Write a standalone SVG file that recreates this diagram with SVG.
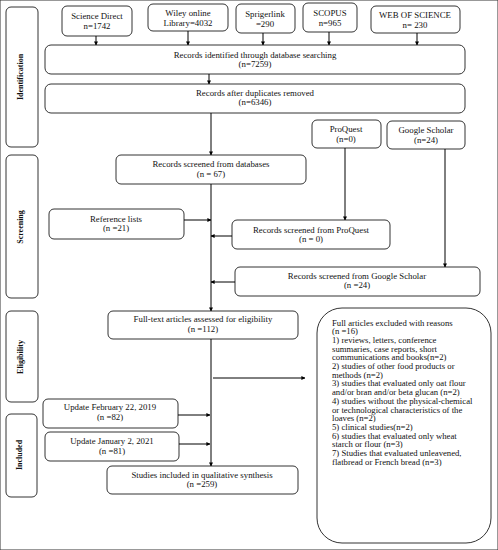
<svg xmlns="http://www.w3.org/2000/svg" width="498" height="550" viewBox="0 0 498 550">
<defs>
<marker id="ah" viewBox="0 0 10 10" refX="9" refY="5" markerWidth="4" markerHeight="4" orient="auto" markerUnits="userSpaceOnUse">
<path d="M0,0 L10,5 L0,10 z" fill="#000"/>
</marker>
<style>
rect{fill:#fff;stroke:#333;stroke-width:1}
text{font-family:"Liberation Serif","Times New Roman",serif;font-size:8.8px;fill:#111}
.c{text-anchor:middle}
.side{font-weight:bold;font-size:8px;text-anchor:middle}
.ex{font-size:8.7px}
.ln{stroke:#000;stroke-width:1;fill:none}
.ar{stroke:#000;stroke-width:1;fill:none;marker-end:url(#ah)}
</style>
</defs>
<rect width="498" height="550" fill="#fff" stroke="none"/>

<g id="phase-identification"><rect x="6" y="7" width="32" height="140" rx="5"/><text class="side" transform="translate(23,77) rotate(-90)">Identification</text></g>
<g id="phase-screening"><rect x="6" y="155" width="32" height="143" rx="5"/><text class="side" transform="translate(23,227) rotate(-90)">Screening</text></g>
<g id="phase-eligibility"><rect x="6" y="311" width="32" height="91" rx="5"/><text class="side" transform="translate(23,357) rotate(-90)">Eligibility</text></g>
<g id="phase-included"><rect x="6" y="414" width="31" height="83" rx="5"/><text class="side" transform="translate(22,455) rotate(-90)">Included</text></g>

<g id="sciencedirect"><rect x="62" y="6" width="70" height="30" rx="5"/><text class="c" x="97" y="19">Science Direct</text><text class="c" x="97" y="29">n=1742</text></g>
<g id="wiley"><rect x="148" y="4" width="80" height="27" rx="5"/><text class="c" x="188" y="16">Wiley online</text><text class="c" x="188" y="26">Library=4032</text></g>
<g id="springerlink"><rect x="236" y="4" width="59" height="29" rx="5"/><text class="c" x="265" y="17">Sprigerlink</text><text class="c" x="265" y="27">=290</text></g>
<g id="scopus"><rect x="303" y="3" width="54" height="29" rx="5"/><text class="c" x="330" y="16">SCOPUS</text><text class="c" x="330" y="26">n=965</text></g>
<g id="wos"><rect x="371" y="6" width="89" height="27" rx="5"/><text class="c" x="415" y="18">WEB OF SCIENCE</text><text class="c" x="415" y="28">n= 230</text></g>

<g id="identified"><rect x="45" y="45" width="420" height="29" rx="6"/><text class="c" x="255" y="58">Records identified through database searching</text><text class="c" x="255" y="67">(n=7259)</text></g>
<g id="dedup"><rect x="45" y="84" width="420" height="29" rx="6"/><text class="c" x="255" y="96">Records after duplicates removed</text><text class="c" x="255" y="105">(n=6346)</text></g>

<g id="proquest"><rect x="312" y="120" width="69" height="28" rx="5"/><text class="c" x="346" y="132">ProQuest</text><text class="c" x="346" y="142">(n=0)</text></g>
<g id="googlescholar"><rect x="387" y="121" width="78" height="28" rx="5"/><text class="c" x="426" y="133">Google Scholar</text><text class="c" x="426" y="143">(n=24)</text></g>

<g id="screened-db"><rect x="116" y="155" width="190" height="29" rx="5"/><text class="c" x="211" y="167">Records screened from databases</text><text class="c" x="211" y="177">(n = 67)</text></g>
<g id="reflists"><rect x="49" y="209" width="135" height="30" rx="5"/><text class="c" x="116" y="222">Reference lists</text><text class="c" x="116" y="231">(n =21)</text></g>
<g id="screened-pq"><rect x="232" y="220" width="158" height="29" rx="5"/><text class="c" x="311" y="233">Records screened from ProQuest</text><text class="c" x="311" y="242">(n = 0)</text></g>
<g id="screened-gs"><rect x="235" y="267" width="245" height="29" rx="5"/><text class="c" x="357" y="279">Records screened from Google Scholar</text><text class="c" x="357" y="288">(n =24)</text></g>

<g id="fulltext"><rect x="108" y="311" width="190" height="28" rx="5"/><text class="c" x="203" y="322">Full-text articles assessed for eligibility</text><text class="c" x="203" y="332">(n =112)</text></g>

<g id="excluded"><rect x="317" y="308" width="174" height="235" rx="25"/>
<text class="ex" x="332" y="325.5">Full articles excluded with reasons</text>
<text class="ex" x="332" y="334.2">(n =16)</text>
<text class="ex" x="332" y="342.9">1) reviews, letters, conference</text>
<text class="ex" x="332" y="351.6">summaries, case reports, short</text>
<text class="ex" x="332" y="360.3">communications and books(n=2)</text>
<text class="ex" x="332" y="369">2) studies of other food products or</text>
<text class="ex" x="332" y="377.7">methods (n=2)</text>
<text class="ex" x="332" y="386.4">3) studies that evaluated only oat flour</text>
<text class="ex" x="332" y="395.1">and/or bran and/or beta glucan (n=2)</text>
<text class="ex" x="332" y="403.8">4) studies without the physical-chemical</text>
<text class="ex" x="332" y="412.5">or technological characteristics of the</text>
<text class="ex" x="332" y="421.2">loaves (n=2)</text>
<text class="ex" x="332" y="429.9">5) clinical studies(n=2)</text>
<text class="ex" x="332" y="438.6">6) studies that evaluated only wheat</text>
<text class="ex" x="332" y="447.3">starch or flour (n=3)</text>
<text class="ex" x="332" y="456">7) Studies that evaluated unleavened,</text>
<text class="ex" x="332" y="464.7">flatbread or French bread (n=3)</text>
</g>

<g id="update2019"><rect x="43" y="399" width="135" height="29" rx="5"/><text class="c" x="110" y="410">Update February 22, 2019</text><text class="c" x="110" y="420">(n =82)</text></g>
<g id="update2021"><rect x="45" y="432" width="134" height="29" rx="5"/><text class="c" x="112" y="444">Update January 2, 2021</text><text class="c" x="112" y="454">(n =81)</text></g>
<g id="included"><rect x="107" y="466" width="191" height="28" rx="5"/><text class="c" x="202" y="478">Studies included in qualitative synthesis</text><text class="c" x="202" y="487">(n =259)</text></g>

<g id="connectors">
<line class="ar" x1="96" y1="36" x2="96" y2="45"/>
<line class="ar" x1="188" y1="31" x2="188" y2="45"/>
<line class="ar" x1="263" y1="33" x2="263" y2="45"/>
<line class="ar" x1="329" y1="32" x2="329" y2="45"/>
<line class="ar" x1="417" y1="33" x2="417" y2="45"/>
<line class="ar" x1="209" y1="74" x2="209" y2="84"/>
<line class="ar" x1="211" y1="113" x2="211" y2="155"/>
<line class="ar" x1="211" y1="184" x2="211" y2="311"/>
<line class="ar" x1="184" y1="220" x2="211" y2="220"/>
<line class="ar" x1="345" y1="148" x2="345" y2="220"/>
<line class="ar" x1="232" y1="236" x2="211" y2="236"/>
<line class="ar" x1="445" y1="149" x2="445" y2="267"/>
<line class="ar" x1="235" y1="282" x2="211" y2="282"/>
<line class="ar" x1="211" y1="339" x2="211" y2="466"/>
<line class="ar" x1="213" y1="378" x2="305" y2="378"/>
<line class="ar" x1="178" y1="415" x2="210" y2="415"/>
<line class="ar" x1="179" y1="444" x2="210" y2="444"/>
</g>
</svg>
